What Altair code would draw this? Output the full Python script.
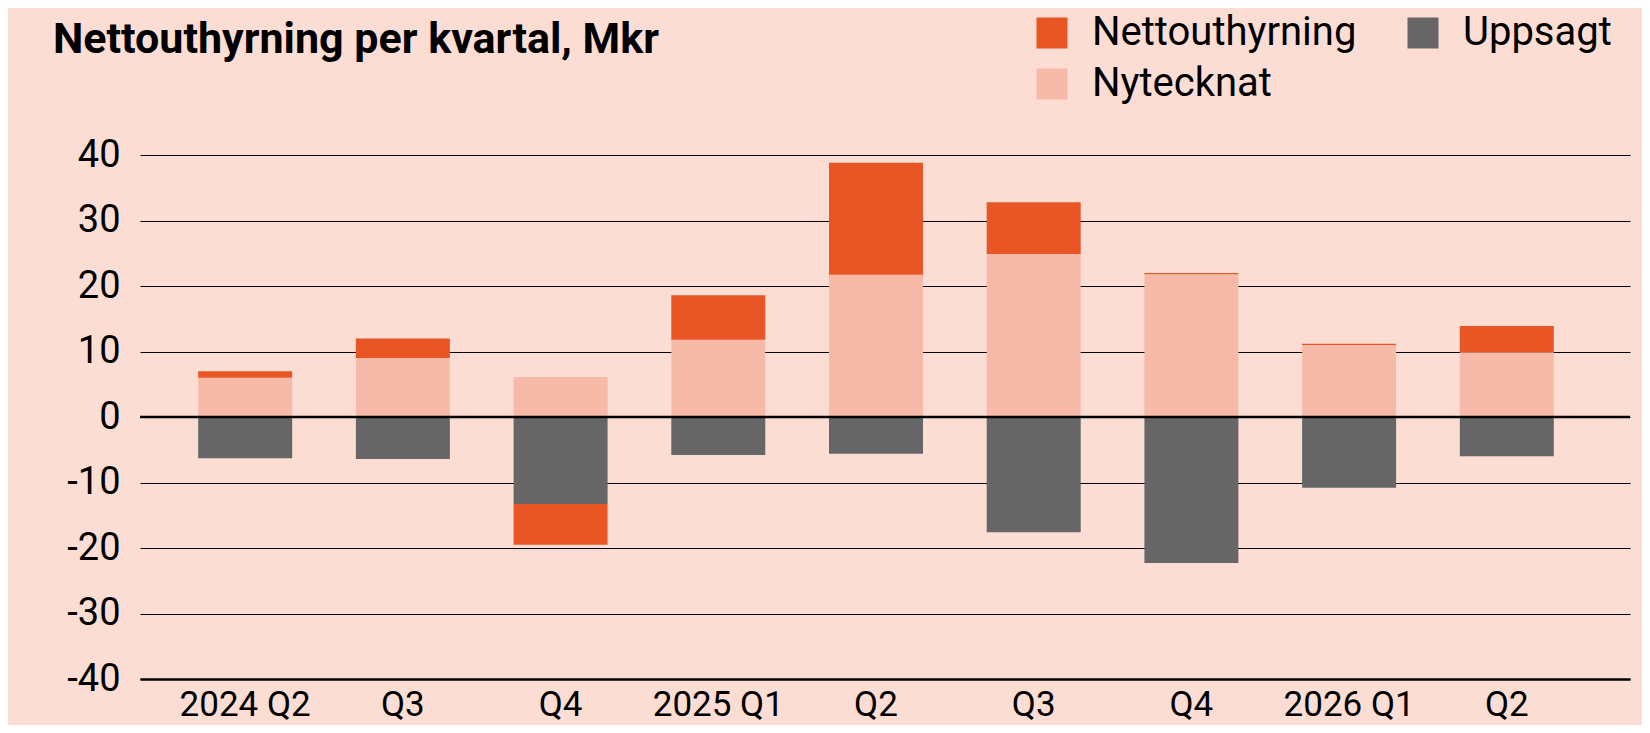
import altair as alt
import pandas as pd

quarters = ["2024 Q2", "2024 Q3", "2024 Q4", "2025 Q1", "2025 Q2",
            "2025 Q3", "2025 Q4", "2026 Q1", "2026 Q2"]
tick_labels = ["2024 Q2", "Q3", "Q4", "2025 Q1", "Q2", "Q3", "Q4", "2026 Q1", "Q2"]
nytecknat = [6.0, 9.0, 6.1, 11.8, 21.7, 24.9, 21.8, 11.0, 9.9]
uppsagt = [-6.3, -6.4, -13.3, -5.8, -5.6, -17.6, -22.3, -10.8, -6.0]
netto = [1.0, 3.0, -6.2, 6.8, 17.1, 7.9, 0.2, 0.2, 4.0]

series = ["Nettouthyrning", "Uppsagt", "Nytecknat"]
colors = ["#E95525", "#666666", "#F7BAA8"]
stack_order = {"Nytecknat": 0, "Uppsagt": 1, "Nettouthyrning": 2}
y_ticks = [-40, -30, -20, -10, 0, 10, 20, 30, 40]

rows = []
for q, a, b, c in zip(quarters, nytecknat, uppsagt, netto):
    rows.append({"q": q, "series": "Nytecknat", "value": a, "ord": stack_order["Nytecknat"]})
    rows.append({"q": q, "series": "Uppsagt", "value": b, "ord": stack_order["Uppsagt"]})
    rows.append({"q": q, "series": "Nettouthyrning", "value": c, "ord": stack_order["Nettouthyrning"]})
df = pd.DataFrame(rows)

FONT = "Roboto"
label_expr = "[" + ",".join("'%s'" % t for t in tick_labels) + "][indexof([" + \
    ",".join("'%s'" % q for q in quarters) + "], datum.value)]"

bars = alt.Chart(df).mark_bar().encode(
    x=alt.X("q:N", sort=quarters,
            scale=alt.Scale(domain=quarters, paddingInner=0.404, paddingOuter=0.426, align=0.433),
            axis=alt.Axis(title=None, ticks=False, domain=True, domainColor="black",
                          domainWidth=2.5, labelAngle=0, labelFont=FONT, labelFontSize=35,
                          labelColor="black", labelPadding=8, grid=False,
                          labelExpr=label_expr)),
    y=alt.Y("value:Q", stack="zero",
            scale=alt.Scale(domain=[-40, 40], nice=False),
            axis=alt.Axis(title=None, values=y_ticks, grid=True, gridColor="black",
                          gridWidth=1, domain=False, ticks=False, labelFont=FONT,
                          labelFontSize=38, labelColor="black", labelPadding=20,
                          labelExpr="'' + datum.value")),
    color=alt.Color("series:N", sort=series, scale=alt.Scale(domain=series, range=colors),
                    legend=alt.Legend(title=None, orient="none", legendX=892, legendY=-142,
                                      values=series, direction="horizontal",
                                      columns=2, columnPadding=46, rowPadding=11,
                                      symbolType="square", symbolSize=961,
                                      symbolStrokeWidth=0, labelFont=FONT,
                                      labelFontSize=40, labelColor="black",
                                      labelOffset=20, padding=0, labelLimit=0)),
    order=alt.Order("ord:Q"),
)

zero = alt.Chart(pd.DataFrame({"y": [0]})).mark_rule(color="black", strokeWidth=2.5).encode(
    y=alt.Y("y:Q")
)

chart = alt.layer(bars, zero).properties(
    width=1490, height=524,
    background="#FBDDD4",
    padding={"left": 132, "top": 147, "right": 12, "bottom": 46},
    autosize=alt.AutoSizeParams(type="none"),
    title=alt.TitleParams(text="Nettouthyrning per kvartal, Mkr", anchor="start",
                          frame="group", font=FONT, fontSize=43, fontWeight="bold",
                          color="black", dx=-87, dy=53),
).configure_view(stroke=None)

chart.save("out.html", embed_options={"renderer": "svg", "actions": False})
